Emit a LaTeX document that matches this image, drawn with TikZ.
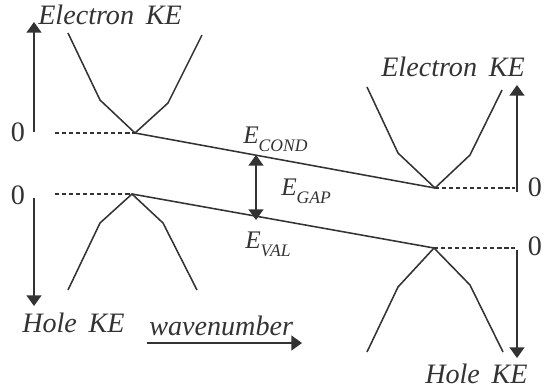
\documentclass[tikz,border=0pt]{standalone}
\usepackage{fontspec}
\setmainfont{Liberation Serif}
\usetikzlibrary{arrows.meta}
\definecolor{bandline}{HTML}{333333}

\newcommand{\Esub}[1]{E\raisebox{-6pt}{\fontsize{12.5}{14}\selectfont #1}}

\tikzset{
  lbl/.style={font=\itshape\fontsize{20}{23}\selectfont, inner sep=0pt, text=bandline},
  elbl/.style={font=\itshape\fontsize{18}{21}\selectfont, inner sep=0pt, text=bandline, anchor=base west},
  zero/.style={font=\fontsize{20}{23}\selectfont, inner sep=0pt, text=bandline},
  band/.style={bandline, line width=1.1pt},
  axis/.style={bandline, line width=1.1pt, -{Triangle[width=10.5pt,length=7.5pt]}},
  level/.style={bandline, line width=0.8pt, dash pattern=on 3pt off 2pt},
}

\begin{document}
\begin{tikzpicture}[x=0.025cm,y=-0.025cm]
\useasboundingbox (0,0) rectangle (547,391);
% band edges
\coordinate (cbL) at (135,133);
\coordinate (cbR) at (435,188);
\coordinate (vbL) at (132,194);
\coordinate (vbR) at (434,248);
% reference levels
\coordinate (lvlA) at (55,133);
\coordinate (lvlB) at (55,194);
\coordinate (lvlC) at (515,188);
\coordinate (lvlD) at (515,248);
\draw[level] (lvlA) -- (cbL);
\draw[level] (lvlB) -- (vbL);
\draw[level] (cbR) -- (lvlC);
\draw[level] (vbR) -- (lvlD);
% bands
\draw[band] (68,33) -- (100,100) -- (cbL) -- (168,103) -- (202,35);
\draw[band] (367,87) -- (398,153) -- (cbR) -- (470,155) -- (502,90);
\draw[band] (68,290) -- (100,223) -- (vbL) -- (163,223) -- (197,290);
\draw[band] (367,352) -- (398,287) -- (vbR) -- (470,285) -- (503,352);
\draw[band] (cbL) -- (cbR);
\draw[band] (vbL) -- (vbR);
% axes
\coordinate (upL0) at (34,132);
\coordinate (upL1) at (34,22);
\coordinate (dnL0) at (34,198);
\coordinate (dnL1) at (34,306);
\coordinate (upR0) at (517,192);
\coordinate (upR1) at (517,85);
\coordinate (dnR0) at (517,250);
\coordinate (dnR1) at (517,358);
\draw[axis] (upL0) -- (upL1);
\draw[axis] (dnL0) -- (dnL1);
\draw[axis] (upR0) -- (upR1);
\draw[axis] (dnR0) -- (dnR1);
% gap
\coordinate (gapT) at (256,155);
\coordinate (gapB) at (256,220);
\draw[axis,{Triangle[width=10.5pt,length=7.5pt]}-{Triangle[width=10.5pt,length=7.5pt]}] (gapT) -- (gapB);
% labels
\node[lbl,anchor=base west] (eKEl) at (38,24) {Electron \,KE};
\node[lbl,anchor=base west] (eKEr) at (381,76) {Electron \,KE};
\node[lbl,anchor=base west] (hKEl) at (22,332) {Hole \,KE};
\node[lbl,anchor=base west] (hKEr) at (425,383) {Hole \,KE};
\node[lbl,anchor=base west] (wave) at (149,335) {wavenumber};
\coordinate (waveL) at (147,343);
\coordinate (waveR) at (302,343);
\draw[axis] (waveL) -- (waveR);
\node[zero] (zA) at (18,132) {0};
\node[zero] (zB) at (18,195) {0};
\node[zero] (zC) at (535,187) {0};
\node[zero] (zD) at (535,246) {0};
\node[elbl] (ec) at (243,143) {\Esub{COND}};
\node[elbl] (eg) at (281,195) {\Esub{GAP}};
\node[elbl] (ev) at (245,248) {\Esub{VAL}};
\end{tikzpicture}
\end{document}
